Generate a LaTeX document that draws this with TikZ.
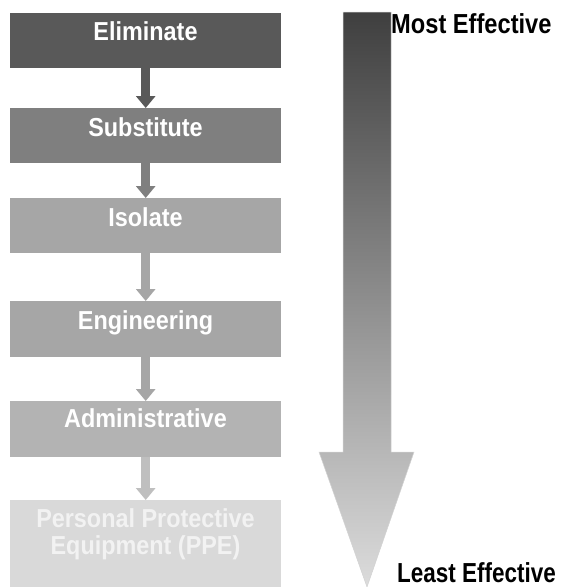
\documentclass[tikz,border=0pt]{standalone}
\usepackage{fontspec}
\setmainfont[FakeStretch=0.9]{Liberation Sans}
\newfontfamily\edgefont[FakeStretch=0.86]{Liberation Sans}
\usetikzlibrary{arrows.meta}
\definecolor{cA}{HTML}{595959}
\definecolor{cB}{HTML}{7F7F7F}
\definecolor{cC}{HTML}{A6A6A6}
\definecolor{cD}{HTML}{A6A6A6}
\definecolor{cE}{HTML}{B3B3B3}
\definecolor{cEa}{HTML}{BFBFBF}
\definecolor{cF}{HTML}{D9D9D9}
\definecolor{ppetext}{HTML}{F2F2F2}
\definecolor{gtop}{HTML}{3F3F3F}
\definecolor{gbot}{HTML}{DCDCDC}
\begin{document}
\begin{tikzpicture}[x=1pt,y=-1pt,
  hbox/.style={rectangle, draw=none, inner sep=0pt, minimum width=271pt, anchor=north west},
  htext/.style={inner sep=0pt, anchor=base, text=white, font=\fontsize{26}{27}\selectfont\bfseries},
  conn/.style={line width=9pt, -{Triangle[width=19pt,length=12pt]}},
  lbl/.style={inner sep=0pt, anchor=base west, text=black, font=\edgefont\fontsize{27.5}{28}\selectfont\bfseries}]
\useasboundingbox (0,0) rectangle (566,587);
% boxes
\node[hbox, fill=cA, minimum height=55pt] (b1) at (10,13) {};
\node[hbox, fill=cB, minimum height=55pt] (b2) at (10,108) {};
\node[hbox, fill=cC, minimum height=55pt] (b3) at (10,198) {};
\node[hbox, fill=cD, minimum height=56pt] (b4) at (10,301) {};
\node[hbox, fill=cE, minimum height=56pt] (b5) at (10,401) {};
\node[hbox, fill=cF, minimum height=87pt] (b6) at (10,500) {};
% texts
\node[htext] (t1) at (145.5,40) {Eliminate};
\node[htext] (t2) at (145.5,136.5) {Substitute};
\node[htext] (t3) at (145.5,226.5) {Isolate};
\node[htext] (t4) at (145.5,329) {Engineering};
\node[htext] (t5) at (145.5,427) {Administrative};
\node[htext, text=ppetext] (t6a) at (145.5,527) {Personal Protective};
\node[htext, text=ppetext] (t6b) at (145.5,554) {Equipment (PPE)};
% connectors
\draw[conn, draw=cA, fill=cA] (b1.south) -- (b2.north);
\draw[conn, draw=cB, fill=cB] (b2.south) -- (b3.north);
\draw[conn, draw=cC, fill=cC] (b3.south) -- (b4.north);
\draw[conn, draw=cD, fill=cD] (b4.south) -- (b5.north);
\draw[conn, draw=cEa, fill=cEa] (b5.south) -- (b6.north);
% big effectiveness arrow
\shade[top color=gtop, bottom color=gbot, draw=gray!35, line width=0.5pt]
  (343,12) -- (391,12) -- (391,452) -- (414,452) -- (367,587) -- (319,452) -- (343,452) -- cycle;
\node[lbl] (most) at (391,33) {Most Effective};
\node[lbl] (least) at (397,582) {\scalebox{0.95}[1]{Least Effective}};
\end{tikzpicture}
\end{document}
